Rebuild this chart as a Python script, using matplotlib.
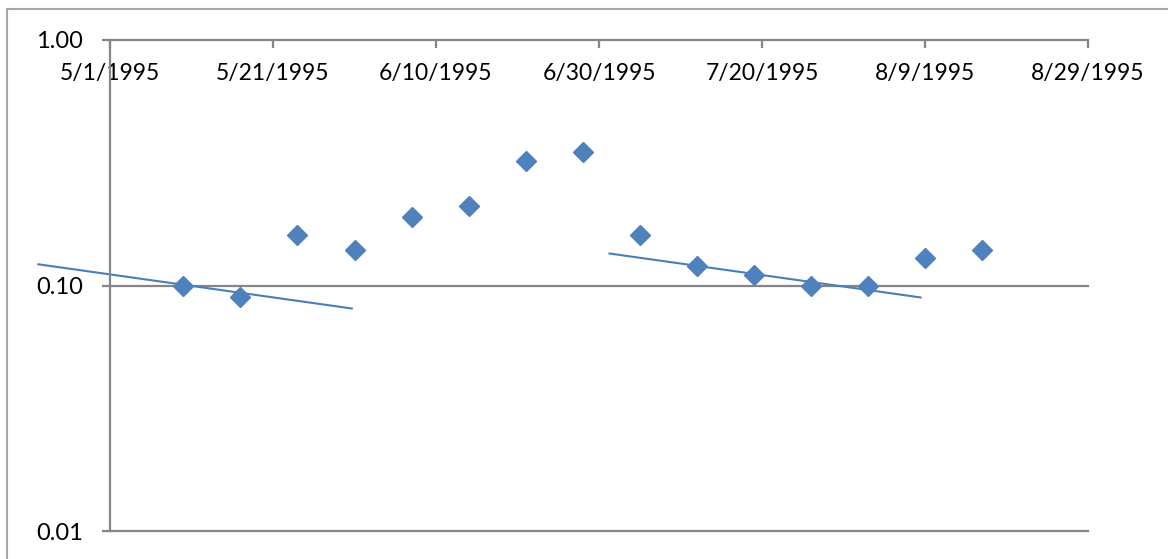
import matplotlib
matplotlib.use("Agg")
import matplotlib.pyplot as plt
import matplotlib.dates as mdates
from matplotlib.patches import Rectangle
from matplotlib.ticker import FixedLocator, FuncFormatter, NullLocator
import datetime as dt

# ---- data ----
sample_dates = ["1995-05-10", "1995-05-17", "1995-05-24", "1995-05-31", "1995-06-07",
                "1995-06-14", "1995-06-21", "1995-06-28", "1995-07-05", "1995-07-12",
                "1995-07-19", "1995-07-26", "1995-08-02", "1995-08-09", "1995-08-16"]
sample_values = [0.10, 0.09, 0.16, 0.14, 0.19, 0.21, 0.32, 0.35, 0.16, 0.12,
                 0.11, 0.10, 0.10, 0.13, 0.14]

trend1_dates = ["1995-04-22 05:00", "1995-05-30 16:00"]
trend1_values = [0.122, 0.0806]
trend2_dates = ["1995-07-01 07:00", "1995-08-08 11:00"]
trend2_values = [0.135, 0.0894]

x_tick_dates = ["1995-05-01", "1995-05-21", "1995-06-10", "1995-06-30",
                "1995-07-20", "1995-08-09", "1995-08-29"]
y_ticks = [0.01, 0.10, 1.00]
y_tick_labels = ["0.01", "0.10", "1.00"]

def to_num(s):
    fmt = "%Y-%m-%d %H:%M" if " " in s else "%Y-%m-%d"
    return mdates.date2num(dt.datetime.strptime(s, fmt))

W, H = 1168, 559
fig = plt.figure(figsize=(W / 100, H / 100), dpi=100)
plt.rcParams['font.family'] = ['Lato', 'DejaVu Sans']

ax = fig.add_axes([110 / W, 1 - 531 / H, (1088 - 110) / W, (531 - 40) / H])

grid_c = "#868686"
blue = "#4F81BD"

xd = [to_num(s) for s in sample_dates]
ax.set_yscale("log")
ax.set_ylim(0.01, 1.0)
xt = [to_num(s) for s in x_tick_dates]
ax.set_xlim(xt[0], xt[-1])

# gridlines at 0.10 and 0.01
for v in y_ticks[:2]:
    ax.axhline(v, color=grid_c, lw=1.6, zorder=1, clip_on=False)

ax.plot([to_num(s) for s in trend1_dates], trend1_values, color="#4A7EBB", lw=1.5,
        zorder=2, clip_on=False)
ax.plot([to_num(s) for s in trend2_dates], trend2_values, color="#4A7EBB", lw=1.5,
        zorder=2, clip_on=False)
ax.plot(xd, sample_values, linestyle="none", marker="D", markersize=10.5,
        color=blue, markeredgecolor=blue, zorder=3, clip_on=False)

for sp in ["bottom", "right"]:
    ax.spines[sp].set_visible(False)
for sp in ["top", "left"]:
    ax.spines[sp].set_color(grid_c)
    ax.spines[sp].set_linewidth(1.6)

ax.yaxis.set_major_locator(FixedLocator(y_ticks))
ax.yaxis.set_minor_locator(NullLocator())
ax.set_yticklabels(y_tick_labels)
ax.tick_params(axis="y", direction="out", length=6, width=1.6, color=grid_c,
               labelsize=17, pad=13.5, labelcolor="black")

ax.xaxis.set_major_locator(FixedLocator(xt))
ax.xaxis.set_minor_locator(NullLocator())

def fmt_date(x, pos=None):
    d = mdates.num2date(x)
    return f"{d.month}/{d.day}/{d.year}"

ax.xaxis.set_major_formatter(FuncFormatter(fmt_date))
ax.xaxis.set_ticks_position("top")
ax.tick_params(axis="x", which="major", direction="in", length=6, width=1.6,
               color=grid_c, labelsize=16.5, labeltop=True, labelbottom=False,
               pad=-32, labelcolor="black")

fig.patches.append(Rectangle((7 / W, -0.1), 1.2, 1 - 9 / H + 0.1,
                             transform=fig.transFigure, fill=False,
                             edgecolor="#A6A6A6", lw=1.5))

fig.savefig("out.png", dpi=100)
